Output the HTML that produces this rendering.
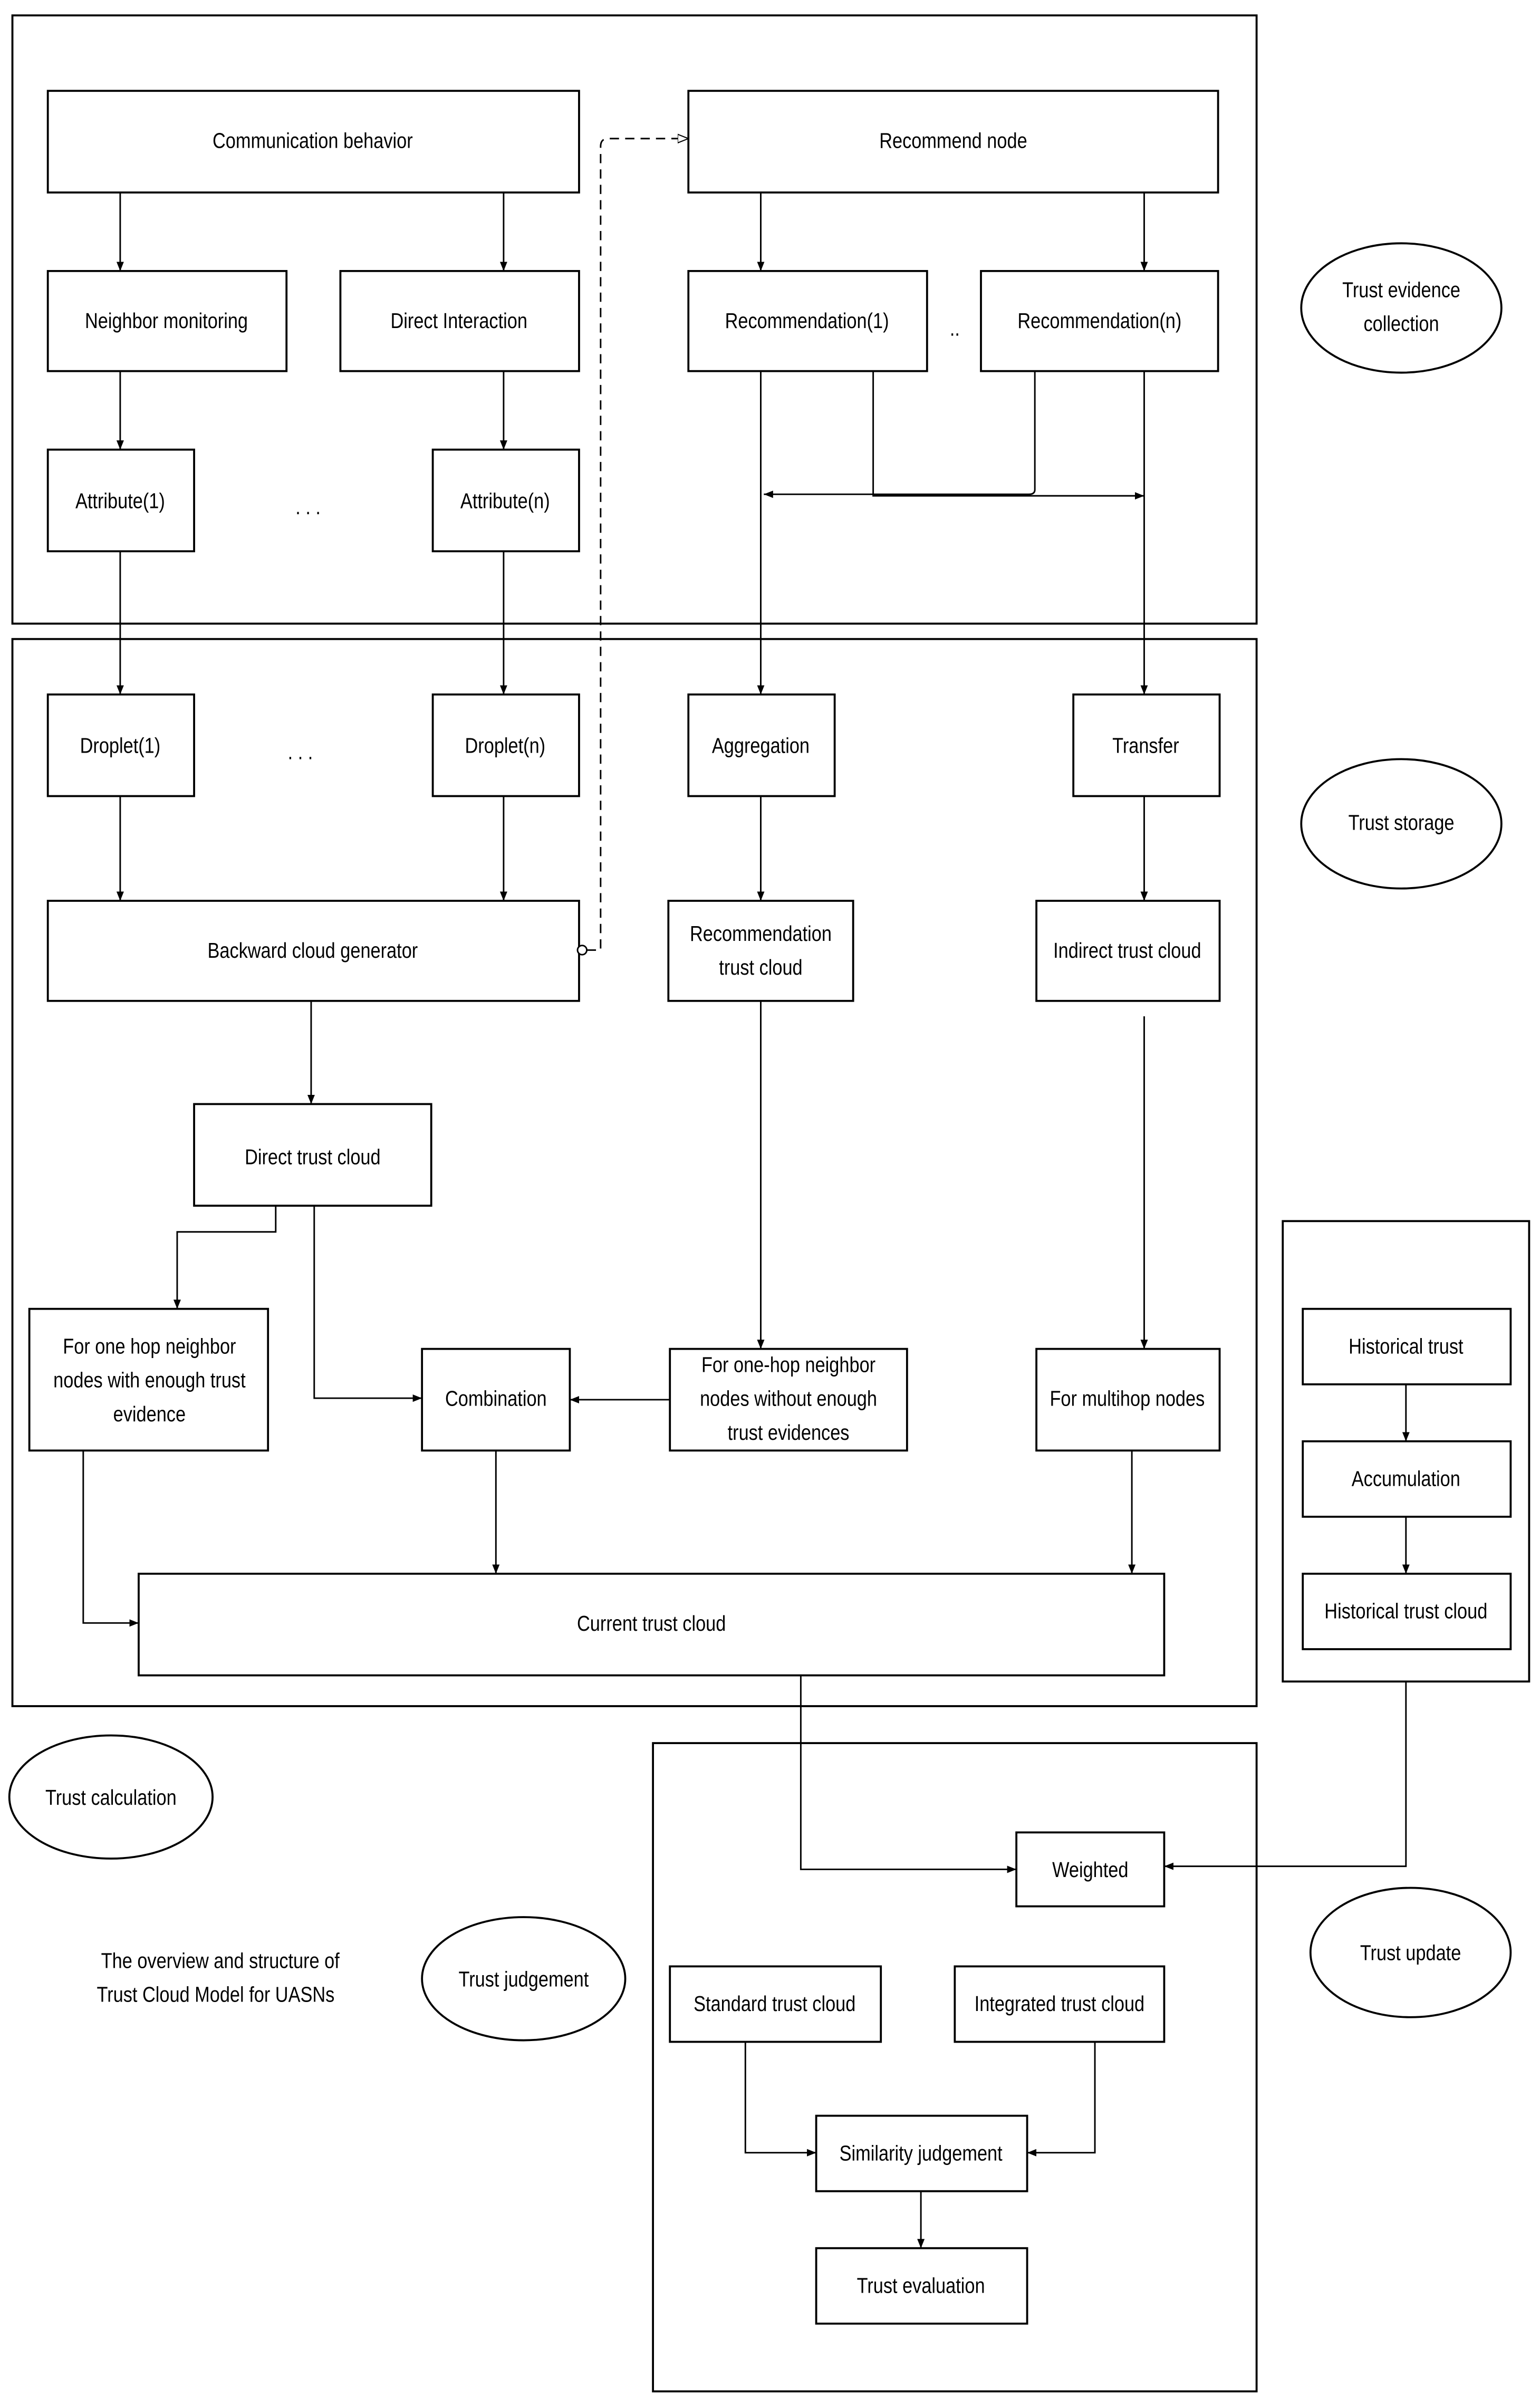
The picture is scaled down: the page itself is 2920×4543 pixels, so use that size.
<!DOCTYPE html>
<html><head><meta charset="utf-8"><style>html,body{margin:0;padding:0;background:#fff}svg{display:block}text{font-family:"Liberation Sans",sans-serif;font-size:14px;fill:#000;transform-box:fill-box;transform-origin:center;transform:scaleX(0.84)}</style></head><body>
<svg width="2920" height="4543" viewBox="0 0 1000 1556" xmlns="http://www.w3.org/2000/svg">
<defs>
<marker id="a" viewBox="0 0 10 10" refX="10" refY="5" markerWidth="6" markerHeight="6" orient="auto"><path d="M0,1 L10,5 L0,9 z" fill="#000"/></marker>
<marker id="o" viewBox="0 0 10 10" refX="10" refY="5" markerWidth="7" markerHeight="7" orient="auto"><path d="M0,1 L10,5 L0,9 z" fill="#fff" stroke="#000"/></marker>
</defs>
<g fill="none" stroke="#000" stroke-width="1.3">
<rect x="8" y="10" width="808" height="395"/>
<rect x="8" y="415" width="808" height="693"/>
<rect x="833" y="793" width="160" height="299"/>
<rect x="424" y="1132" width="392" height="421"/>
</g>
<g fill="#fff" stroke="#000" stroke-width="1.3">
<rect x="31" y="59" width="345" height="66"/>
<rect x="447" y="59" width="344" height="66"/>
<rect x="31" y="176" width="155" height="65"/>
<rect x="221" y="176" width="155" height="65"/>
<rect x="447" y="176" width="155" height="65"/>
<rect x="637" y="176" width="154" height="65"/>
<rect x="31" y="292" width="95" height="66"/>
<rect x="281" y="292" width="95" height="66"/>
<rect x="31" y="451" width="95" height="66"/>
<rect x="281" y="451" width="95" height="66"/>
<rect x="447" y="451" width="95" height="66"/>
<rect x="697" y="451" width="95" height="66"/>
<rect x="31" y="585" width="345" height="65"/>
<rect x="434" y="585" width="120" height="65"/>
<rect x="673" y="585" width="119" height="65"/>
<rect x="126" y="717" width="154" height="66"/>
<rect x="19" y="850" width="155" height="92"/>
<rect x="274" y="876" width="96" height="66"/>
<rect x="435" y="876" width="154" height="66"/>
<rect x="673" y="876" width="119" height="66"/>
<rect x="90" y="1022" width="666" height="66"/>
<rect x="846" y="850" width="135" height="49"/>
<rect x="846" y="936" width="135" height="49"/>
<rect x="846" y="1022" width="135" height="49"/>
<rect x="660" y="1190" width="96" height="48"/>
<rect x="435" y="1277" width="137" height="49"/>
<rect x="620" y="1277" width="136" height="49"/>
<rect x="530" y="1374" width="137" height="49"/>
<rect x="530" y="1460" width="137" height="49"/>
<ellipse cx="910" cy="200" rx="65" ry="42"/>
<ellipse cx="910" cy="535" rx="65" ry="42"/>
<ellipse cx="72" cy="1167" rx="66" ry="40"/>
<ellipse cx="916" cy="1268" rx="65" ry="42"/>
<ellipse cx="340" cy="1285" rx="66" ry="40"/>
</g>
<g fill="none" stroke="#000" stroke-width="1" marker-end="url(#a)">
<path d="M78,125V176"/><path d="M327,125V176"/><path d="M494,125V176"/><path d="M743,125V176"/>
<path d="M78,241V292"/><path d="M327,241V292"/>
<path d="M78,358V451"/><path d="M327,358V451"/>
<path d="M494,241V451"/><path d="M743,241V451"/>
<path d="M567,241V322H743"/><path d="M672,241V318Q672,321 668,321H496"/>
<path d="M78,517V585"/><path d="M327,517V585"/><path d="M494,517V585"/><path d="M743,517V585"/>
<path d="M202,650V717"/>
<path d="M179,783V800H115V850"/>
<path d="M204,783V908H274"/>
<path d="M494,650V876"/>
<path d="M743,660V876"/>
<path d="M435,909H370"/>
<path d="M322,942V1022"/>
<path d="M54,942V1054H90"/>
<path d="M735,942V1022"/>
<path d="M520,1088V1214H660"/>
<path d="M913,1092V1212H756"/>
<path d="M913,899V936"/><path d="M913,985V1022"/>
<path d="M484,1326V1398H530"/><path d="M711,1326V1398H667"/>
<path d="M598,1423V1460"/>
</g>
<path d="M381,617H390V95Q390,90 395,90H447" fill="none" stroke="#000" stroke-width="1" stroke-dasharray="6,4" marker-end="url(#o)"/>
<circle cx="378" cy="617" r="3" fill="#fff" stroke="#000"/>
<g text-anchor="middle">
<text x="203" y="96">Communication behavior</text>
<text x="619" y="96">Recommend node</text>
<text x="108" y="213">Neighbor monitoring</text>
<text x="298" y="213">Direct Interaction</text>
<text x="524" y="213">Recommendation(1)</text>
<text x="714" y="213">Recommendation(n)</text>
<text x="620" y="218" font-size="18">..</text>
<text x="78" y="330">Attribute(1)</text>
<text x="328" y="330">Attribute(n)</text>
<text x="200" y="334" font-size="18">. . .</text>
<text x="78" y="489">Droplet(1)</text>
<text x="328" y="489">Droplet(n)</text>
<text x="195" y="493" font-size="18">. . .</text>
<text x="494" y="489">Aggregation</text>
<text x="744" y="489">Transfer</text>
<text x="203" y="622">Backward cloud generator</text>
<text x="494" y="611">Recommendation</text>
<text x="494" y="633">trust cloud</text>
<text x="732" y="622">Indirect trust cloud</text>
<text x="203" y="756">Direct trust cloud</text>
<text x="97" y="879">For one hop neighbor</text>
<text x="97" y="901">nodes with enough trust</text>
<text x="97" y="923">evidence</text>
<text x="322" y="913">Combination</text>
<text x="512" y="891">For one-hop neighbor</text>
<text x="512" y="913">nodes without enough</text>
<text x="512" y="935">trust evidences</text>
<text x="732" y="913">For multihop nodes</text>
<text x="423" y="1059">Current trust cloud</text>
<text x="913" y="879">Historical trust</text>
<text x="913" y="965">Accumulation</text>
<text x="913" y="1051">Historical trust cloud</text>
<text x="708" y="1219">Weighted</text>
<text x="503" y="1306">Standard trust cloud</text>
<text x="688" y="1306">Integrated trust cloud</text>
<text x="598" y="1403">Similarity judgement</text>
<text x="598" y="1489">Trust evaluation</text>
<text x="910" y="193">Trust evidence</text>
<text x="910" y="215">collection</text>
<text x="910" y="539">Trust storage</text>
<text x="72" y="1172">Trust calculation</text>
<text x="916" y="1273">Trust update</text>
<text x="340" y="1290">Trust judgement</text>
<text x="143" y="1278">The overview and structure of</text>
<text x="140" y="1300">Trust Cloud Model for UASNs</text>
</g>
</svg>
</body></html>
